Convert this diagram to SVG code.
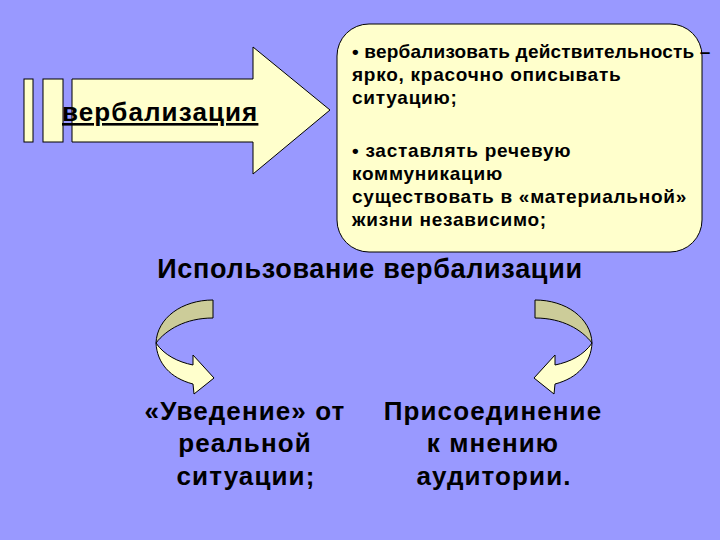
<svg xmlns="http://www.w3.org/2000/svg" width="720" height="540" viewBox="0 0 720 540">
<style>
.bg{fill:#9999FF}
.shape{fill:#FFFFCC;stroke:#000;stroke-width:1}
.back{fill:#CCCC99;stroke:#000;stroke-width:1}
text{font-family:"Liberation Sans",Arial,sans-serif;font-weight:bold;fill:#000}
.box{font-size:19px;letter-spacing:0.75px}
.big{font-size:26px;letter-spacing:1.1px}
</style>
<defs>
<g id="curl">
<path class="back" d="M213,300 C182,300 157,318 156,343 C166,330 185,318 213,318 Z"/>
<path class="shape" d="M156,343 C157,363 170,378 193,384 L194,394 L214,378 L193,355 L193,365 C178,362 164,355 156,343 Z"/>
</g>
</defs>
<rect class="bg" x="0" y="0" width="720" height="540"/>
<g id="verbalization-arrow">
<rect class="shape" x="24" y="79" width="9" height="63"/>
<rect class="shape" x="43" y="79" width="20" height="63"/>
<path class="shape" d="M72,79 L253,79 L253,47 L330,110 L253,174 L253,142 L72,142 Z"/>
<text x="62" y="121" font-size="26" letter-spacing="1.1" text-decoration="underline">вербализация</text>
</g>
<g id="description-box">
<rect class="shape" x="337" y="24" width="365" height="228" rx="32" ry="32" stroke-width="1.5"/>
<text class="box" x="352" y="58" style="letter-spacing:0.2px">• вербализовать действительность –</text>
<text class="box" x="352" y="81">ярко, красочно описывать</text>
<text class="box" x="352" y="104"> ситуацию;</text>
<text class="box" x="352" y="157">• заставлять речевую</text>
<text class="box" x="352" y="180">коммуникацию</text>
<text class="box" x="352" y="203">существовать в «материальной»</text>
<text class="box" x="352" y="226">жизни независимо;</text>
</g>
<g id="title">
<text x="370" y="278" text-anchor="middle" font-size="27" letter-spacing="0.7">Использование вербализации</text>
</g>
<g id="connectors">
<use href="#curl"/>
<use href="#curl" transform="translate(748,0) scale(-1,1)"/>
</g>
<g id="left-text">
<text class="big" x="245" y="420" text-anchor="middle">«Уведение» от</text>
<text class="big" x="245" y="452" text-anchor="middle">реальной</text>
<text class="big" x="246" y="485" text-anchor="middle">ситуации;</text>
</g>
<g id="right-text">
<text class="big" x="493" y="420" text-anchor="middle">Присоединение</text>
<text class="big" x="493" y="452" text-anchor="middle">к мнению</text>
<text class="big" x="494" y="485" text-anchor="middle">аудитории.</text>
</g>
</svg>
